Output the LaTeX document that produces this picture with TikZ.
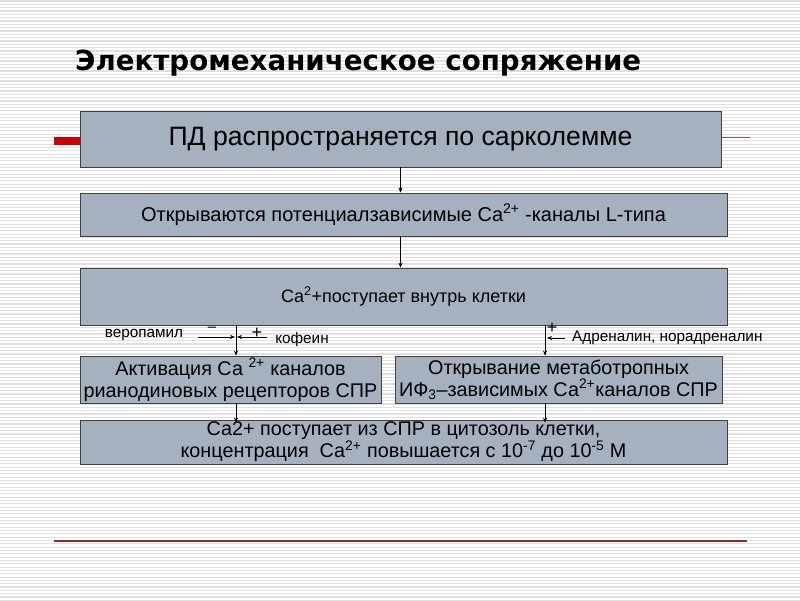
\documentclass[tikz,border=0pt]{standalone}
\usepackage{fontspec}
\setmainfont{Liberation Sans}
\newfontfamily\titlefont{DejaVu Sans}
\usetikzlibrary{arrows.meta}
\definecolor{boxc}{RGB}{165,177,191}
\definecolor{stripe}{RGB}{224,224,224}
\definecolor{redbar}{RGB}{204,0,0}
\definecolor{thinred}{RGB}{215,60,60}
\definecolor{darkred}{RGB}{140,45,45}
\begin{document}
\begin{tikzpicture}[x=1pt,y=-1pt,
 box/.style={draw=black!75,fill=boxc,line width=0.8pt,inner sep=0pt,align=center,anchor=center},
 arr/.style={-{Stealth[length=5pt,width=4pt]},line width=0.6pt},
 lbl/.style={font=\fontsize{15.3}{17}\selectfont,inner sep=0pt},
 sign/.style={font=\fontsize{18}{18}\selectfont,inner sep=0pt}]
\useasboundingbox (0,0) rectangle (800,600);
\fill[white] (0,0) rectangle (800,600);
\foreach \i in {0,...,180} \draw[stripe,line width=1.2pt] (0,{\i*3.33+1}) -- (800,{\i*3.33+1});
% title
\node[anchor=base west,inner sep=0pt,font=\titlefont\bfseries\fontsize{27.7}{30}\selectfont] (title) at (75,70) {Электромеханическое сопряжение};
% decorations
\fill[redbar] (54,137) rectangle (80,145);
\draw[thinred,line width=0.7pt] (721,137) -- (750,137);
\draw[darkred,line width=1.2pt] (54,541) -- (747,541);
% boxes
\node[box,minimum width=641pt,minimum height=56pt,font=\fontsize{26.6}{30}\selectfont] (b1) at (400.5,139) {ПД распространяется по сарколемме};
\node[box,minimum width=647pt,minimum height=43pt,font=\fontsize{20}{22}\selectfont] (b2) at (403.5,214.5) {Открываются потенциалзависимые Ca\textsuperscript{2+} -каналы L-типа};
\node[box,minimum width=647pt,minimum height=57pt,font=\fontsize{18}{22}\selectfont] (b3) at (403.5,296.5) {Ca\textsuperscript{2}+поступает внутрь клетки};
\node[box,minimum width=301pt,minimum height=47pt,font=\fontsize{19.8}{22}\selectfont] (b4) at (230.5,379.5) {Активация Са \textsuperscript{2+} каналов\\рианодиновых рецепторов СПР};
\node[box,minimum width=327pt,minimum height=47pt,font=\fontsize{19.8}{22}\selectfont] (b5) at (558.5,379.5) {Открывание метаботропных\\ИФ\textsubscript{3}–зависимых Са\textsuperscript{2+}каналов СПР};
\node[box,minimum width=647pt,minimum height=44pt,font=\fontsize{19.8}{22}\selectfont] (b6) at (403.5,442) {Са2+ поступает из СПР в цитозоль клетки,\\концентрация \ Са\textsuperscript{2+} повышается с 10\textsuperscript{-7} до 10\textsuperscript{-5} М};
% columns
\coordinate (xl) at (236,0);
\coordinate (xr) at (545,0);
% arrows
\draw[arr] (b1.south) -- (b1.south |- b2.north);
\draw[arr] (b2.south -| b1.south) -- (b1.south |- b3.north);
\draw[arr] (b3.south -| xl) -- (b4.north -| xl);
\draw[arr] (b3.south -| xr) -- (b5.north -| xr);
\draw[arr] (b4.south -| xl) -- ([yshift=-3pt]b6.north -| xl);
\draw[arr] (b5.south -| xr) -- ([yshift=-3pt]b6.north -| xr);
% modulators
\node[lbl,anchor=center] (ver) at (144,335) {веропамил};
\node[lbl,anchor=center] (kof) at (302,340) {кофеин};
\node[lbl,anchor=west] (adr) at (572,338) {Адреналин, норадреналин};
\coordinate (v1) at (198,337);
\coordinate (v2) at (235,337);
\coordinate (k1) at (267,337);
\coordinate (k2) at (237,337);
\coordinate (a1) at (565,338);
\coordinate (a2) at (547,338);
\draw[arr] (v1) -- (v2);
\draw[arr] (k1) -- (k2);
\draw[arr] (a1) -- (a2);
\node[sign,font=\fontsize{15}{15}\selectfont] (minus) at (212,329) {\textendash};
\node[sign] (plus1) at (257,333) {+};
\node[sign] (plus2) at (552,328) {+};
\end{tikzpicture}
\end{document}
